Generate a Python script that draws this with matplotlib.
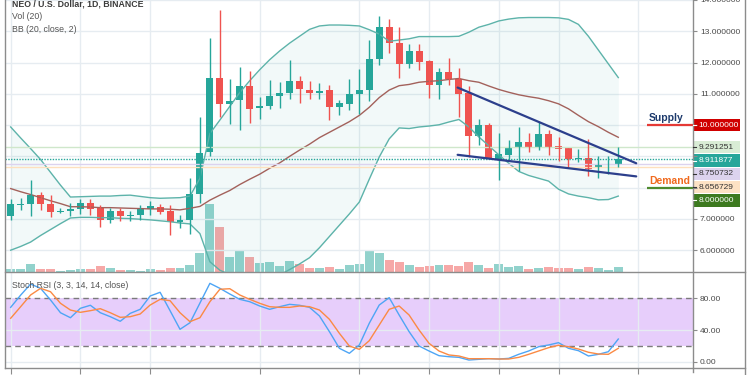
"""NEO / U.S. Dollar daily chart: candles, volume, Bollinger Bands and Stoch RSI."""
import matplotlib
matplotlib.use("Agg")
import matplotlib.pyplot as plt
import matplotlib.transforms as mtransforms
from matplotlib.lines import Line2D
from matplotlib.patches import Rectangle
import numpy as np

plt.rcParams["font.family"] = ["Liberation Sans", "DejaVu Sans"]

# ---- data (one entry per daily candle) ----
opens = [7.10, 7.45, 7.49, 7.75, 7.49, 7.21, 7.24, 7.31, 7.52, 7.36,
         6.98, 7.24, 7.09, 7.11, 7.33, 7.38, 7.24, 6.89, 6.97, 7.80,
         9.13, 11.52, 10.68, 10.80, 11.26, 10.54, 10.60, 10.94, 11.04, 11.41,
         11.13, 11.04, 11.13, 10.57, 10.68, 10.99, 11.12, 12.10, 13.13, 12.64,
         11.96, 12.36, 12.06, 11.29, 11.71, 11.49, 11.04, 9.66, 10.01, 8.91,
         9.05, 9.28, 9.45, 9.26, 9.73, 9.34, 9.28, 8.91, 8.96, 8.63,
         8.71, 8.750732]
highs = [7.63, 7.66, 8.24, 7.86, 7.75, 7.34, 7.52, 7.63, 7.64, 7.45,
         7.34, 7.34, 7.24, 7.46, 7.58, 7.48, 7.46, 7.11, 8.31, 10.26,
         12.78, 13.69, 11.46, 11.86, 11.73, 10.89, 11.43, 11.38, 12.08, 11.57,
         11.41, 11.36, 11.29, 10.81, 11.49, 11.80, 12.73, 13.48, 13.38, 13.13,
         12.60, 12.60, 12.08, 11.83, 12.13, 11.83, 11.25, 10.20, 10.08, 9.75,
         9.52, 9.94, 9.75, 10.10, 9.84, 9.62, 9.28, 9.24, 9.55, 9.00,
         9.00, 9.291251]
lows = [6.97, 7.28, 7.08, 7.28, 7.07, 7.19, 7.08, 7.17, 7.13, 6.73,
        6.86, 6.92, 6.94, 6.95, 7.12, 7.16, 6.50, 6.72, 6.52, 7.50,
        9.00, 10.26, 10.04, 9.84, 10.08, 10.20, 10.50, 10.54, 10.83, 10.71,
        10.83, 10.83, 10.15, 10.33, 10.49, 10.36, 10.78, 11.92, 12.31, 11.52,
        11.81, 11.76, 10.86, 10.83, 11.27, 10.26, 8.99, 9.36, 8.94, 8.24,
        8.86, 8.52, 9.15, 9.20, 9.03, 8.86, 8.65, 8.81, 8.36, 8.31,
        8.44, 8.656729]
closes = [7.47, 7.49, 7.75, 7.49, 7.21, 7.26, 7.31, 7.52, 7.31, 6.97,
          7.24, 7.08, 7.12, 7.35, 7.41, 7.22, 6.89, 6.98, 7.79, 9.12,
          11.52, 10.68, 10.78, 11.26, 10.52, 10.60, 10.94, 11.04, 11.41, 11.14,
          11.04, 11.10, 10.57, 10.70, 10.99, 11.12, 12.10, 13.13, 12.62, 11.96,
          12.38, 12.01, 11.27, 11.71, 11.46, 11.01, 9.66, 10.01, 8.94, 9.07,
          9.26, 9.47, 9.29, 9.73, 9.31, 9.24, 8.92, 8.94, 8.61, 8.71,
          8.75, 8.911877]
volume = [3.0, 3.0, 8.0, 3.0, 3.0, 1.2, 2.0, 3.0, 3.0, 6.0,
          4.4, 2.0, 2.0, 1.2, 3.0, 2.0, 3.7, 4.4, 6.7, 19.4,
          68.3, 45.0, 15.4, 20.7, 14.7, 8.7, 10.0, 5.7, 11.0, 8.0,
          4.0, 4.4, 5.2, 2.7, 7.4, 7.8, 21.4, 18.7, 12.0, 9.7,
          6.7, 5.4, 6.0, 6.7, 6.7, 6.0, 9.5, 6.7, 4.4, 7.8,
          4.5, 5.5, 2.8, 3.8, 4.5, 3.8, 3.8, 2.8, 4.5, 3.8,
          2.2, 4.5]
bb_upper = [9.94, 9.59, 9.25, 8.90, 8.49, 8.08, 7.70, 7.71, 7.72, 7.73,
            7.73, 7.75, 7.76, 7.72, 7.68, 7.66, 7.67, 7.68, 7.73, 8.30,
            9.73, 10.16, 10.60, 11.04, 11.42, 11.77, 12.09, 12.37, 12.62, 12.84,
            13.06, 13.17, 13.20, 13.20, 13.19, 13.17, 13.05, 12.91, 12.68, 12.72,
            12.76, 12.83, 12.83, 12.83, 12.83, 12.84, 12.97, 13.13, 13.22, 13.33,
            13.39, 13.43, 13.44, 13.44, 13.44, 13.43, 13.38, 13.22, 12.84, 12.40,
            11.96, 11.52]
bb_basis = [7.97, 7.87, 7.78, 7.68, 7.58, 7.49, 7.39, 7.39, 7.38, 7.36,
            7.36, 7.35, 7.34, 7.33, 7.32, 7.32, 7.31, 7.29, 7.34, 7.40,
            7.60, 7.76, 7.91, 8.10, 8.27, 8.43, 8.62, 8.79, 9.00, 9.20,
            9.39, 9.60, 9.77, 9.94, 10.11, 10.31, 10.57, 10.88, 11.12, 11.26,
            11.30, 11.37, 11.40, 11.42, 11.46, 11.49, 11.42, 11.37, 11.25, 11.14,
            11.05, 10.97, 10.91, 10.86, 10.78, 10.68, 10.52, 10.31, 10.11, 9.95,
            9.77, 9.61]
bb_lower = [6.00, 6.12, 6.26, 6.47, 6.66, 6.85, 7.03, 7.05, 7.05, 7.04,
            7.04, 7.02, 7.01, 6.99, 6.97, 6.94, 6.91, 6.87, 6.84, 6.53,
            5.63, 5.36, 5.22, 5.16, 5.12, 5.09, 5.15, 5.21, 5.38, 5.56,
            5.76, 6.08, 6.44, 6.80, 7.16, 7.54, 8.27, 8.98, 9.56, 9.91,
            9.89, 9.94, 9.97, 10.01, 10.10, 10.18, 9.94, 9.62, 9.34, 9.05,
            8.78, 8.52, 8.39, 8.30, 8.21, 7.95, 7.80, 7.73, 7.68, 7.61,
            7.62, 7.73]
stoch_k = [68.6, 84.0, 98.0, 92.6, 77.9, 61.8, 55.5, 67.4, 71.2, 61.8,
           56.8, 51.0, 61.0, 66.1, 82.9, 87.6, 64.4, 40.9, 49.2, 74.0,
           98.9, 92.6, 85.4, 78.7, 75.7, 70.3, 66.1, 69.4, 72.4, 71.2,
           68.6, 57.7, 37.9, 16.9, 10.6, 21.1, 48.5, 71.5, 80.8, 58.9,
           37.9, 19.8, 13.5, 7.6, 6.3, 5.5, 2.1, 3.0, 3.8, 3.4,
           4.2, 9.3, 13.5, 18.9, 21.1, 24.0, 16.9, 13.9, 7.2, 9.3,
           12.6, 28.6]
stoch_d = [54.8, 69.4, 84.2, 92.6, 88.3, 73.7, 65.2, 62.3, 64.4, 66.9,
           61.8, 56.0, 56.8, 60.2, 71.5, 78.7, 77.0, 61.8, 50.5, 55.5,
           75.7, 91.4, 92.1, 84.2, 78.7, 73.7, 69.4, 68.6, 68.6, 70.3,
           69.4, 65.2, 53.5, 35.8, 19.8, 15.6, 26.5, 46.3, 66.1, 70.3,
           58.9, 40.0, 23.2, 13.5, 8.5, 7.2, 3.8, 3.8, 3.8, 3.4,
           3.4, 5.5, 9.3, 13.5, 17.7, 20.7, 18.9, 16.0, 11.9, 9.7,
           9.3, 16.9]

grid_days = [0, 7, 14, 25, 35, 42, 49, 55, 63]   # candle index of date gridlines
price_ticks = [6, 7, 8, 9, 10, 11, 12, 13, 14]
stoch_ticks = [0, 40, 80]
trend_x = [44.87, 62.8]
trend_top = [11.20, 8.78]
trend_bottom = [9.05, 8.36]
zone_start = 63.9
supply_level = 10.0
demand_level = 8.0

# ---- colours / layout ----
UP, DOWN = "#26a69a", "#ef5350"
GRID = "#e6ecf1"
BORDER = "#8c8c8c"
TXT = "#4a4a4a"
W, H = 750, 375
XLIM = (-0.57, 68.5)


def rect(x0, y0, x1, y1):
    """pixel box (top-left origin) -> figure fraction rect"""
    return [x0 / W, 1 - y1 / H, (x1 - x0) / W, (y1 - y0) / H]


x = np.arange(len(closes))
o, h, l, c = map(np.array, (opens, highs, lows, closes))
up = c >= o
cols = np.where(up, UP, DOWN)

fig = plt.figure(figsize=(7.5, 3.75), dpi=100)
fig.patch.set_facecolor("white")

ax = fig.add_axes(rect(5, 0, 693, 272))
axv = fig.add_axes(rect(5, 0, 693, 272))
ax2 = fig.add_axes(rect(5, 272, 693, 368.3))
axv.set_zorder(0)
ax.set_zorder(1)
ax.patch.set_visible(False)

ax.set_xlim(*XLIM)
ax.set_ylim(5.303, 13.883)

# background layer: grid + volume
axv.set_xlim(*XLIM)
axv.set_ylim(0, max(volume) * 3.98)
axv.set_xticks(grid_days)
axv.set_yticks([])
axv.grid(axis="x", color=GRID, lw=1)
axv.tick_params(length=0, labelbottom=False)
blend = mtransforms.blended_transform_factory(axv.transAxes, ax.transData)
for p in price_ticks:
    axv.plot([0, 1], [p, p], color=GRID, lw=1, transform=blend)
axv.bar(x, volume, width=0.9, color=cols, alpha=0.5, lw=0)
for s in axv.spines.values():
    s.set_visible(False)

# Bollinger Bands
ax.fill_between(x, bb_lower, bb_upper, color=UP, alpha=0.06, lw=0)
ax.plot(x, bb_upper, color="#5db3aa", lw=1)
ax.plot(x, bb_lower, color="#5db3aa", lw=1)
ax.plot(x, bb_basis, color="#a3615b", lw=1)

# last-candle reference lines
ax.axhline(highs[-1], color="#cfe7cb", lw=1)
ax.axhline(closes[-1], color=UP, lw=1, ls=(0, (1, 1)))
ax.axhline(opens[-1], color="#dcd3ee", lw=1)
ax.axhline(lows[-1], color="#fde0bd", lw=1)

# candles
ax.vlines(x, l, h, colors=cols, lw=1)
body = np.maximum(np.abs(c - o), 0.03)
ax.bar(x, body, bottom=np.minimum(o, c), width=0.7, color=cols, lw=0)

# drawings
ax.plot(trend_x, trend_top, color="#2c3f8c", lw=1.6, solid_capstyle="round")
ax.plot(trend_x, trend_bottom, color="#2c3f8c", lw=1.6, solid_capstyle="round")
ax.hlines(supply_level, zone_start, XLIM[1], color="#e53935", lw=1.6)
ax.hlines(demand_level, zone_start, XLIM[1], color="#4f8a2e", lw=1.6)
ax.annotate("Supply", (zone_start + 0.2, supply_level), xytext=(0, 1.5),
            textcoords="offset points", fontsize=7.5, fontweight="bold",
            color="#1d3a6c", va="bottom", ha="left")
ax.annotate("Demand", (zone_start + 0.2, demand_level), xytext=(0, 1.5),
            textcoords="offset points", fontsize=7.5, fontweight="bold",
            color="#f06a1e", va="bottom", ha="left")

# price axis
ax.yaxis.tick_right()
ax.set_yticks(price_ticks)
ax.set_yticklabels([f"{p:.6f}" if p not in (8, 9, 10) else "" for p in price_ticks])
ax.tick_params(axis="y", length=3, color=BORDER, labelsize=6, labelcolor=TXT, pad=2)
ax.set_xticks([])
for s in ax.spines.values():
    s.set_visible(False)

# Stoch RSI pane
ax2.set_xlim(*XLIM)
ax2.set_ylim(-8.33, 113.2)
ax2.set_xticks(grid_days)
ax2.grid(axis="x", color=GRID, lw=1)
for lvl in (0, 40):
    ax2.axhline(lvl, color=GRID, lw=1)
ax2.axhspan(20, 80, color="#e7cefb", lw=0)
ax2.axhline(80, color="#7b7b7b", lw=1, ls=(0, (4, 3)))
ax2.axhline(20, color="#7b7b7b", lw=1, ls=(0, (4, 3)))
ax2.plot(x, stoch_k, color="#4ea5f5", lw=1)
ax2.plot(x, stoch_d, color="#fb8a44", lw=1)
ax2.yaxis.tick_right()
ax2.set_yticks(stoch_ticks)
ax2.set_yticklabels([f"{v:.2f}" for v in stoch_ticks])
ax2.tick_params(axis="y", length=3, color=BORDER, labelsize=6, labelcolor=TXT, pad=2)
ax2.tick_params(axis="x", length=4, color=BORDER, labelbottom=False)
for s in ax2.spines.values():
    s.set_visible(False)

# pane borders
for px, y0, y1 in [(5, 0, 368.3), (693, 0, 372), (745, 0, 375)]:
    fig.add_artist(Line2D([px / W] * 2, [1 - y0 / H, 1 - y1 / H], color=BORDER, lw=1))
for py in (272, 368.3):
    fig.add_artist(Line2D([5 / W, 745 / W], [1 - py / H] * 2, color=BORDER, lw=1))

# price labels on the scale, stacked so they don't overlap
tags = [(supply_level, "#d00000", "white"),
        (highs[-1], "#d9ecd5", "#333333"),
        (closes[-1], UP, "white"),
        (opens[-1], "#dcd3ee", "#333333"),
        (lows[-1], "#fde2c4", "#333333"),
        (demand_level, "#3d7a1f", "white")]
prev = -1e9
for val, bg, fg in tags:
    py = H - ax.transData.transform((0, val))[1]
    if py < prev + 13.3:
        py = prev + 13.3
    prev = py
    fig.add_artist(Rectangle((693 / W, 1 - (py + 6.2) / H), 47 / W, 12.4 / H,
                             facecolor=bg, edgecolor="none"))
    fig.add_artist(Line2D([693 / W, 696 / W], [1 - py / H] * 2, color=fg, lw=0.8))
    fig.text(698.5 / W, 1 - py / H, f"{val:.6f}", fontsize=6, color=fg,
             va="center", ha="left")

# legends
fig.text(12 / W, 1 - 4.5 / H, "NEO / U.S. Dollar, 1D, BINANCE", fontsize=6.3,
         fontweight="bold", color="#3a3a3a", va="center")
fig.text(12 / W, 1 - 16.7 / H, "Vol (20)", fontsize=6.3, color="#555555", va="center")
fig.text(12 / W, 1 - 30 / H, "BB (20, close, 2)", fontsize=6.3, color="#555555", va="center")
fig.text(12 / W, 1 - 285 / H, "Stoch RSI (3, 3, 14, 14, close)", fontsize=6.3,
         color="#555555", va="center")

fig.savefig("out.png", dpi=100)
